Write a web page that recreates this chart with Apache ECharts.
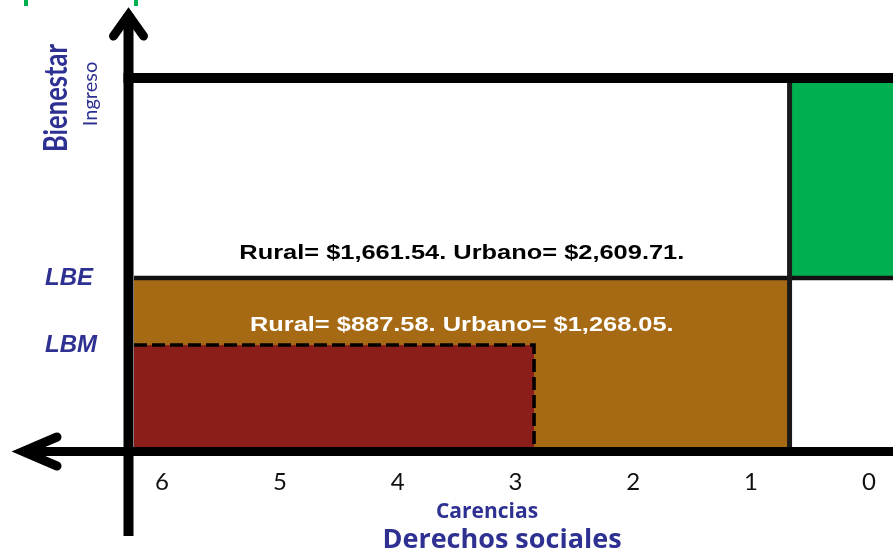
<!DOCTYPE html>
<html><head><meta charset="utf-8">
<script src="https://cdn.jsdelivr.net/npm/echarts@6/dist/echarts.min.js"></script>
<style>html,body{margin:0;padding:0;background:#fff}#c{width:893px;height:554px}</style>
</head><body><div id="c"></div>
<script>
// ---- data ----
const carencias = [6, 5, 4, 3, 2, 1, 0];
const carenciasRango = [-0.205, 6.238];
const ingresoRango = [0, 100];
const lineasNombre = ['LBE', 'LBM'];
const lineasValor = [46.4, 28.0];
const lineasTexto = ['Rural= $1,661.54. Urbano= $2,609.71.', 'Rural= $887.58. Urbano= $1,268.05.'];
const regionNombre = ['Pobreza', 'Pobreza extrema', 'No pobre y no vulnerable'];
const regionCarDesde = [6.238, 6.238, 0.673];
const regionCarHasta = [0.673, 2.842, -0.205];
const regionIngDesde = [0, 0, 46.4];
const regionIngHasta = [46.4, 28.0, 100];
const ejeTitulos = ['Bienestar', 'Ingreso', 'Carencias', 'Derechos sociales'];

// ---- styles ----
const colores = ['#a66a15', '#8b1d1a', '#00af50'];
const azul = '#2e3192';

function renderRegion(params, api) {
  const i = api.value(0);
  const p1 = api.coord([regionCarDesde[i], regionIngHasta[i]]);
  const p2 = api.coord([regionCarHasta[i], regionIngDesde[i]]);
  const x = Math.min(p1[0], p2[0]), y = Math.min(p1[1], p2[1]);
  const w = Math.abs(p2[0] - p1[0]), h = Math.abs(p2[1] - p1[1]);
  const children = [{ type: 'rect', shape: { x, y, width: w, height: h }, style: { fill: colores[i] } }];
  if (i === 1) {
    children.push({ type: 'polyline', shape: { points: [[x, y], [x + w, y], [x + w, y + h]] },
      style: { stroke: '#000', lineWidth: 3.5, lineDash: [13, 5], fill: null } });
  }
  return { type: 'group', children };
}

function renderLinea(params, api) {
  const i = api.value(0);
  const y = api.coord([0, lineasValor[i]])[1];
  const xL = api.coord([carenciasRango[1], 0])[0];
  const xR = api.coord([carenciasRango[0], 0])[0];
  const b0 = api.coord([regionCarDesde[0], 0])[0], b1 = api.coord([regionCarHasta[0], 0])[0];
  const cx = (b0 + b1) / 2;
  const children = [];
  if (i === 0) {
    children.push({ type: 'line', shape: { x1: xL, y1: y, x2: xR, y2: y }, style: { stroke: '#111', lineWidth: 4.5 } });
    const dx = api.coord([regionCarDesde[2], 0])[0];
    const yT = api.coord([0, ingresoRango[1]])[1], yB = api.coord([0, ingresoRango[0]])[1];
    children.push({ type: 'line', shape: { x1: dx, y1: yT, x2: dx, y2: yB }, style: { stroke: '#1a1a1a', lineWidth: 5 } });
  }
  children.push({ type: 'text', x: cx, y: y + (i === 0 ? -24.5 : -19.5), scaleX: 1.21,
    style: { text: lineasTexto[i], font: 'bold 21px "Liberation Sans", Arial, sans-serif',
      fill: i === 0 ? '#000' : '#fff', align: 'center', verticalAlign: 'middle' } });
  return { type: 'group', children };
}

const chart = echarts.init(document.getElementById('c'), null, { renderer: 'canvas' });
const option = {
  animation: false,
  backgroundColor: '#fff',
  grid: { left: 134, right: 0, top: 83, bottom: 107 },
  xAxis: {
    type: 'value', inverse: true, min: carenciasRango[0], max: carenciasRango[1],
    axisLine: { show: false }, axisTick: { show: false }, splitLine: { show: false },
    axisLabel: { customValues: carencias, fontSize: 24, fontFamily: 'Lato', color: '#111', margin: 23 }
  },
  yAxis: {
    type: 'value', min: ingresoRango[0], max: ingresoRango[1],
    axisLine: { show: false }, axisTick: { show: false }, splitLine: { show: false },
    axisLabel: {
      customValues: lineasValor,
      formatter: v => lineasNombre[lineasValor.indexOf(v)],
      fontSize: 24, fontStyle: 'italic', fontWeight: 'bold', fontFamily: '"Liberation Sans"',
      color: azul, align: 'left', margin: 89
    }
  },
  series: [
    { type: 'custom', name: 'regiones', z: 1, silent: true,
      data: regionNombre.map((n, i) => ({ name: n, value: [i] })),
      encode: { x: -1, y: -1 }, renderItem: renderRegion },
    { type: 'custom', name: 'lineas', z: 2, silent: true,
      data: lineasNombre.map((n, i) => ({ name: n, value: [i] })),
      encode: { x: -1, y: -1 }, renderItem: renderLinea }
  ]
};
chart.setOption(option);

const tl = chart.convertToPixel({ gridIndex: 0 }, [carenciasRango[1], ingresoRango[1]]);
const br = chart.convertToPixel({ gridIndex: 0 }, [carenciasRango[0], ingresoRango[0]]);
const ax = tl[0] - 5.5, ay = br[1] + 4.5, ty = tl[1] - 5;
const blk = { stroke: '#000', fill: null };
chart.setOption({
  graphic: [
    { type: 'line', z: 100, shape: { x1: ax, y1: 14, x2: ax, y2: 536 }, style: Object.assign({ lineWidth: 10 }, blk) },
    { type: 'polyline', z: 100, shape: { points: [[ax - 15, 36], [ax, 15], [ax + 15, 36]] },
      style: Object.assign({ lineWidth: 9, lineCap: 'round', lineJoin: 'miter' }, blk) },
    { type: 'line', z: 100, shape: { x1: 22, y1: ay, x2: br[0], y2: ay }, style: Object.assign({ lineWidth: 9 }, blk) },
    { type: 'polyline', z: 100, shape: { points: [[57, ay - 14.5], [23, ay], [57, ay + 14.5]] },
      style: Object.assign({ lineWidth: 9, lineCap: 'round', lineJoin: 'miter' }, blk) },
    { type: 'line', z: 100, shape: { x1: ax - 5, y1: ty, x2: br[0], y2: ty }, style: Object.assign({ lineWidth: 10 }, blk) },
    { type: 'rect', z: 100, shape: { x: 24, y: 0, width: 4, height: 6 }, style: { fill: '#00af50' } },
    { type: 'rect', z: 100, shape: { x: 134, y: 0, width: 4, height: 6 }, style: { fill: '#00af50' } },
    { type: 'text', z: 100, x: 57, y: 98, rotation: Math.PI / 2, scaleX: 0.8,
      style: { text: ejeTitulos[0], font: 'bold 32px Lato', fill: azul, align: 'center', verticalAlign: 'middle' } },
    { type: 'text', z: 100, x: 91, y: 94, rotation: Math.PI / 2,
      style: { text: ejeTitulos[1], font: '20px Lato', fill: azul, align: 'center', verticalAlign: 'middle' } },
    { type: 'text', z: 100, x: 487, y: 512,
      style: { text: ejeTitulos[2], font: 'bold 21px "Open Sans"', fill: azul, align: 'center', verticalAlign: 'middle' } },
    { type: 'text', z: 100, x: 502, y: 540,
      style: { text: ejeTitulos[3], font: 'bold 27px "Open Sans"', fill: azul, align: 'center', verticalAlign: 'middle' } }
  ]
});
</script></body></html>
